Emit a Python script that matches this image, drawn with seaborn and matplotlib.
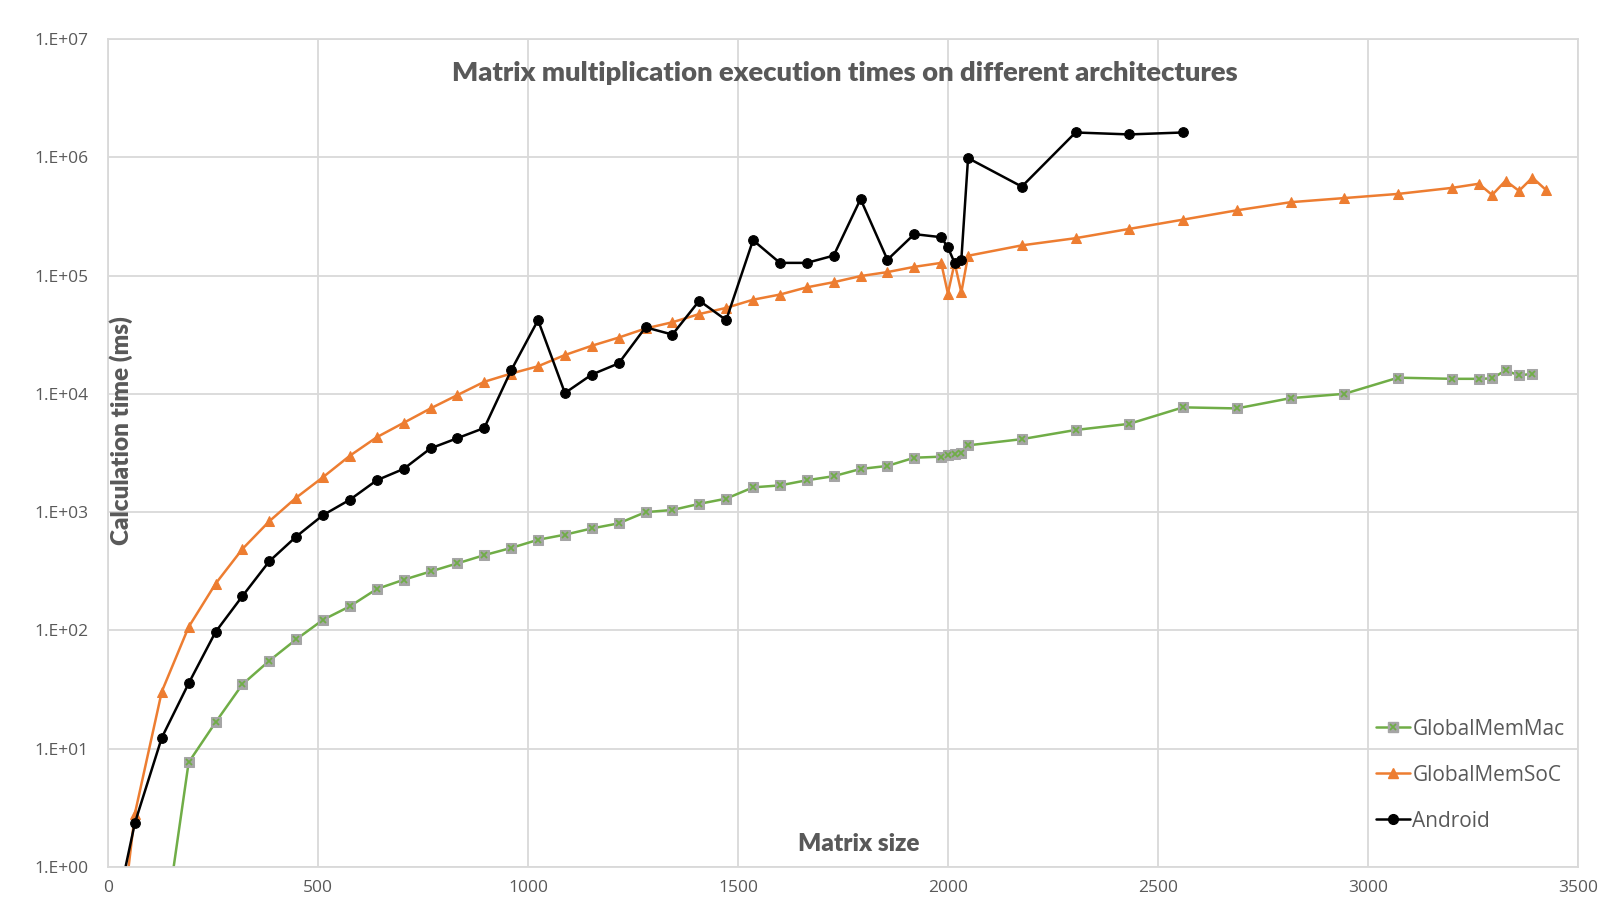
import numpy as np
import pandas as pd
import matplotlib
matplotlib.use("Agg")
import matplotlib.pyplot as plt
from matplotlib.lines import Line2D
from matplotlib.ticker import FuncFormatter, FixedLocator
import seaborn as sns

# -------------------------------
# Data
# -------------------------------
android_x = [32, 64, 128, 192, 256, 320, 384, 448, 512, 576, 640, 704, 768, 832, 896,
             960, 1024, 1088, 1152, 1216, 1280, 1344, 1408, 1472, 1536, 1600, 1664,
             1728, 1792, 1856, 1920, 1984, 2000, 2016, 2032, 2048, 2176, 2304, 2432, 2560]
android_y = [0.69, 2.36, 12.4, 35.7, 97, 195, 384, 621, 944, 1274, 1860, 2320, 3460, 4220,
             5150, 15800, 42000, 10160, 14560, 18100, 36500, 31700, 61300, 42000, 199000,
             128000, 128000, 147500, 443000, 136000, 224000, 211000, 173000, 128000,
             136000, 984000, 565000, 1620000, 1560000, 1620000]

soc_x = [32, 64, 128, 192, 256, 320, 384, 448, 512, 576, 640, 704, 768, 832, 896,
         960, 1024, 1088, 1152, 1216, 1280, 1344, 1408, 1472, 1536, 1600, 1664,
         1728, 1792, 1856, 1920, 1984, 2000, 2016, 2032, 2048, 2176, 2304, 2432, 2560,
         2688, 2816, 2944, 3072, 3200, 3264, 3296, 3328, 3360, 3392, 3424]
soc_y = [0.31, 2.83, 30.4, 107, 248, 488, 837, 1325, 1976, 3000, 4300, 5690, 7530, 9770,
         12650, 14850, 17100, 21300, 25500, 29900, 35700, 40300, 47300, 53300, 62500,
         69100, 79500, 87900, 99000, 107000, 118500, 128000, 70500, 128000, 72000,
         147000, 180000, 207000, 248000, 297000, 356000, 417000, 452000, 490000,
         551000, 597000, 480000, 634000, 520000, 673000, 530000]

mac_x = [128, 192, 256, 320, 384, 448, 512, 576, 640, 704, 768, 832, 896,
         960, 1024, 1088, 1152, 1216, 1280, 1344, 1408, 1472, 1536, 1600, 1664,
         1728, 1792, 1856, 1920, 1984, 2000, 2016, 2032, 2048, 2176, 2304, 2432, 2560,
         2688, 2816, 2944, 3072, 3200, 3264, 3296, 3328, 3360, 3392]
mac_y = [0.2, 7.67, 16.7, 35, 55.4, 84, 123, 160, 224, 268, 315, 369, 433, 498, 584, 645,
         728, 804, 1000, 1043, 1175, 1300, 1620, 1683, 1860, 2014, 2317, 2460, 2885,
         2944, 3070, 3130, 3190, 3670, 4140, 4950, 5580, 7690, 7530, 9200, 10000,
         13700, 13400, 13400, 13500, 15800, 14300, 14800]

y_ticks = [1e0, 1e1, 1e2, 1e3, 1e4, 1e5, 1e6, 1e7]
x_ticks = [0, 500, 1000, 1500, 2000, 2500, 3000, 3500]

GREEN = "#70AD47"
ORANGE = "#ED7D31"
GREY_MARK = "#A5A5A5"
TEXT = "#595959"
GRID = "#D9D9D9"

sns.set_style("white")
plt.rcParams["font.family"] = ["Open Sans", "DejaVu Sans"]

fig = plt.figure(figsize=(16.1, 8.98), dpi=100)
ax = fig.add_axes([0.0671, 0.0345, 0.9129, 0.9221])

mac = pd.DataFrame({"x": mac_x, "y": mac_y})
soc = pd.DataFrame({"x": soc_x, "y": soc_y})
andr = pd.DataFrame({"x": android_x, "y": android_y})

# GlobalMemMac: grey square markers with a green cross on top
sns.lineplot(data=mac, x="x", y="y", ax=ax, color=GREEN, linewidth=1.8,
             marker="s", markersize=6.5, markerfacecolor=GREY_MARK,
             markeredgecolor=GREY_MARK, estimator=None, sort=False)
ax.plot(mac["x"], mac["y"], linestyle="none", marker="x", markersize=4.5,
        markeredgewidth=1.3, color=GREEN)

sns.lineplot(data=soc, x="x", y="y", ax=ax, color=ORANGE, linewidth=1.8,
             marker="^", markersize=7, markeredgecolor=ORANGE,
             estimator=None, sort=False)

sns.lineplot(data=andr, x="x", y="y", ax=ax, color="black", linewidth=1.8,
             marker="o", markersize=7, markeredgecolor="black",
             estimator=None, sort=False)

ax.set_yscale("log")
ax.set_xlim(0, 3500)
ax.set_ylim(1, 1e7)
ax.yaxis.set_major_locator(FixedLocator(y_ticks))
ax.yaxis.set_minor_locator(FixedLocator([]))
ax.yaxis.set_major_formatter(FuncFormatter(lambda v, p: "1.E+%02d" % int(round(np.log10(v)))))
ax.xaxis.set_major_locator(FixedLocator(x_ticks))
ax.set_xlabel("")
ax.set_ylabel("")

ax.grid(True, color=GRID, linewidth=1.3)
ax.set_axisbelow(True)
for s in ax.spines.values():
    s.set_color(GRID)
    s.set_linewidth(1.3)
ax.tick_params(axis="both", length=0, labelsize=12.5, labelcolor=TEXT)
ax.tick_params(axis="y", pad=14)
ax.tick_params(axis="x", pad=9)

# Title and axis labels sit inside the plot area
label_font = ["Lato", "DejaVu Sans"]
ax.text(0.501, 0.959, "Matrix multiplication execution times on different architectures",
        transform=ax.transAxes, ha="center", va="center", fontsize=19.7,
        fontweight="heavy", color=TEXT, family=label_font)
ax.text(0.009, 0.527, "Calculation time (ms)", transform=ax.transAxes, rotation=90,
        ha="center", va="center", fontsize=17.5, fontweight="heavy", color=TEXT,
        family=label_font)
ax.text(0.511, 0.028, "Matrix size", transform=ax.transAxes, ha="center", va="center",
        fontsize=17.5, fontweight="heavy", color=TEXT, family=label_font)

# Legend
h_mac = (Line2D([], [], color=GREEN, linewidth=1.8, marker="s", markersize=6.5,
                markerfacecolor=GREY_MARK, markeredgecolor=GREY_MARK),
         Line2D([], [], linestyle="none", marker="x", markersize=4.5,
                markeredgewidth=1.3, color=GREEN))
h_soc = Line2D([], [], color=ORANGE, linewidth=1.8, marker="^", markersize=7)
h_and = Line2D([], [], color="black", linewidth=1.8, marker="o", markersize=7)
leg = ax.legend([h_mac, h_soc, h_and], ["GlobalMemMac", "GlobalMemSoC", "Android"],
                loc="center left", bbox_to_anchor=(0.863, 0.111), frameon=False,
                fontsize=15, handlelength=1.6, handletextpad=0.12, labelspacing=1.2,
                borderpad=0, borderaxespad=0)
for t in leg.get_texts():
    t.set_color(TEXT)

fig.savefig("out.png", dpi=100)
